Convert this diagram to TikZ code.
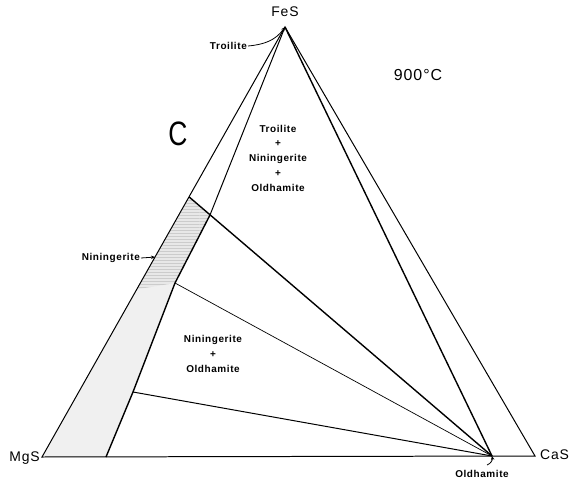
\documentclass[tikz,border=0pt]{standalone}
\usepackage{fontspec}
\setmainfont{Liberation Sans}
\newfontfamily\lblfont[LetterSpace=6]{Liberation Sans}
\usetikzlibrary{arrows.meta, patterns, calc}
\tikzset{
    edge/.style={line width=1pt},
    heavy/.style={line width=1.4pt},
    tie/.style={line width=0.7pt},
    phase/.style={font=\lblfont\bfseries\fontsize{10}{14.8}\selectfont, align=center, inner sep=1pt},
    corner/.style={font=\lblfont\fontsize{14}{16}\selectfont, inner sep=1pt},
    ptr/.style={-{Stealth[length=4pt,width=3.5pt]}, line width=0.8pt}
}

\begin{document}
\begin{tikzpicture}[x=1bp, y=-1bp]
    \useasboundingbox (0,0) rectangle (576,482);

    % corners of the system
    \coordinate (FeS) at (285,27);
    \coordinate (MgS) at (42,457);
    \coordinate (CaS) at (535,456);
    \coordinate (Old) at (492,456);

    % niningerite solid solution field
    \coordinate (ninTop) at ($(MgS)!0.605!(FeS)$);
    \coordinate (ninTopIn) at (210,215);
    \coordinate (ninMid) at (175,283);
    \coordinate (ninLow) at (133,392);
    \coordinate (ninBase) at (106,457);
    \coordinate (dotEnd) at ($(MgS)!0.39!(FeS)$);

    \fill[gray!12] (MgS) -- (ninTop) -- (ninTopIn) -- (ninMid) -- (ninLow) -- (ninBase) -- cycle;
    \fill[gray!18] (ninTop) -- (ninTopIn) -- (ninMid) -- (dotEnd) -- cycle;
    \fill[pattern=horizontal lines, pattern color=gray!40] (ninTop) -- (ninTopIn) -- (ninMid) -- (dotEnd) -- cycle;

    \draw[edge] (MgS) -- (FeS) -- (CaS) -- cycle;
    \draw[heavy] (FeS) -- (Old);
    \draw[edge] (FeS) -- (ninTopIn);
    \draw[heavy] (ninTop) -- (Old);
    \draw[heavy] (ninTopIn) -- (ninMid) -- (ninLow) -- (ninBase);
    \draw[tie] (ninMid) -- (Old);
    \draw[edge] (ninLow) -- (Old);

    % labels
    \node (feslbl) [corner] at (285,12) {FeS};
    \node (mgslbl) [corner, anchor=east] at (41,458) {MgS};
    \node (caslbl) [corner, anchor=west] at (539,455) {CaS};
    \node (temp) [corner, font=\lblfont\fontsize{16}{18}\selectfont] at (418,75) {900°C};
    \node (sect) [font=\fontsize{34}{36}\selectfont, xscale=0.78, inner sep=0pt] at (178,134) {C};

    \node (trolbl) [phase, anchor=east] at (248,46) {Troilite};
    \node (ninlbl) [phase, anchor=east] at (141,258) {Niningerite};
    \node (oldlbl) [phase] at (482,474) {Oldhamite};
    \node (three) [phase] at (278,158) {Troilite\\+\\Niningerite\\+\\Oldhamite};
    \node (two) [phase] at (213,354) {Niningerite\\+\\Oldhamite};

    \coordinate (ninTip) at ($(MgS)!0.465!(FeS)$);
    \coordinate (oldTail) at (487,465);
    \draw[ptr] (trolbl.east) to[out=5,in=235] (FeS);
    \draw[ptr] (ninlbl.east) -- (ninTip);
    \draw[ptr] (oldTail) to[out=20,in=-80] (Old);
\end{tikzpicture}
\end{document}
